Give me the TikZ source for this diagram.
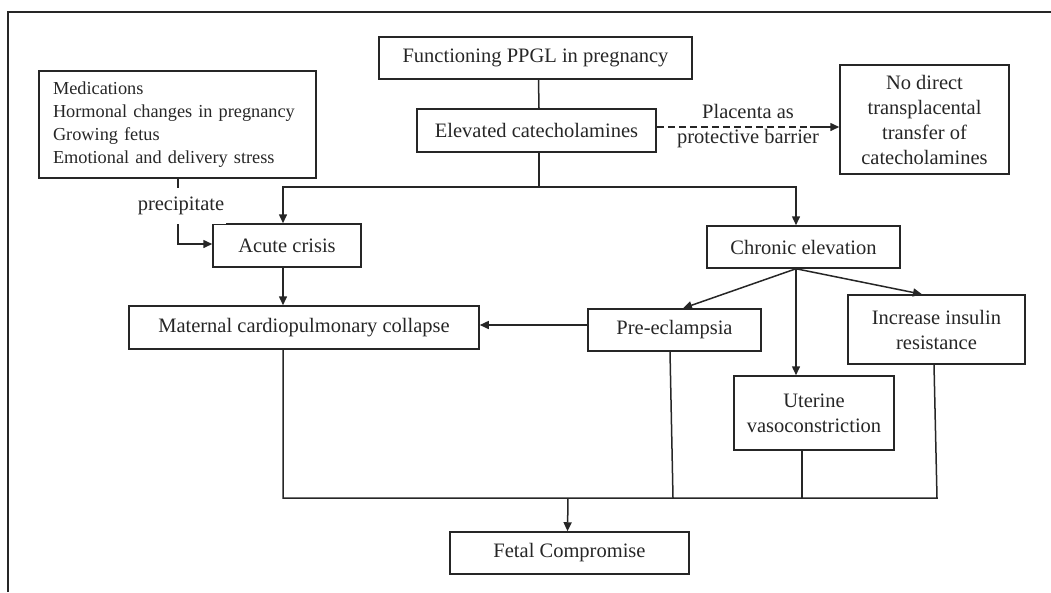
\documentclass[tikz,border=0pt]{standalone}
\usepackage{fontspec}
\setmainfont{Liberation Serif}
\usetikzlibrary{arrows.meta,calc}
\definecolor{ink}{HTML}{262626}
\begin{document}
\begin{tikzpicture}[x=1pt,y=-1pt,
  box/.style={draw=ink,line width=1.5pt,text=ink,inner sep=0pt,align=center,
    font=\fontsize{20.5}{24}\selectfont},
  con/.style={draw=ink,line width=1.5pt},
  arr/.style={con,-{Triangle[length=9pt,width=8pt]}},
  lbl/.style={text=ink,font=\fontsize{20.5}{25}\selectfont,align=center,inner sep=1pt}]
\useasboundingbox (0,0) rectangle (1051,592);
\draw[con] (8,592) -- (8,12) -- (1051,12);

\node[box,minimum width=313pt,minimum height=42pt] (ppgl) at (535.5,58) {Functioning PPGL in pregnancy};
\node[box,minimum width=239pt,minimum height=43pt] (elev) at (536.5,130.5) {Elevated catecholamines};
\node[box,minimum width=277pt,minimum height=107pt,text width=249pt,inner xsep=14pt,align=left,
  font=\fontsize{18.3}{23}\selectfont] (med) at (177.5,124.5)
  {Medications\\Hormonal changes in pregnancy\\Growing fetus\\Emotional and delivery stress};
\node[box,minimum width=169pt,minimum height=109pt,font=\fontsize{20.5}{25}\selectfont] (nodir) at (924.5,119.5)
  {No direct\\transplacental\\transfer of\\catecholamines};
\node[box,minimum width=148pt,minimum height=43pt] (acute) at (287,245.5) {Acute crisis};
\node[box,minimum width=193pt,minimum height=42pt] (chronic) at (803.5,247) {Chronic elevation};
\node[box,minimum width=350pt,minimum height=43pt] (maternal) at (304,327.5) {Maternal cardiopulmonary collapse};
\node[box,minimum width=173pt,minimum height=42pt] (pree) at (674.5,330) {Pre-eclampsia};
\node[box,minimum width=177pt,minimum height=69pt,font=\fontsize{20.5}{25}\selectfont] (insulin) at (936.5,329.5)
  {Increase insulin\\resistance};
\node[box,minimum width=160pt,minimum height=74pt,font=\fontsize{20.5}{25}\selectfont] (uterine) at (814,413)
  {Uterine\\vasoconstriction};
\node[box,minimum width=239pt,minimum height=42pt] (fetal) at (569.5,553) {Fetal Compromise};

% top chain
\draw[con] ([xshift=3pt]ppgl.south) -- ([xshift=2.5pt]elev.north);
\coordinate (sp) at (539,187);
\draw[con] ([xshift=2.5pt]elev.south) -- (sp);
\draw[arr] (sp) -| ([xshift=-4pt]acute.north);
\draw[arr] (sp) -| ([xshift=-7.5pt]chronic.north);

% placenta barrier
\coordinate (ds) at ([yshift=3.5pt]elev.east);
\coordinate (de) at (810,127);
\draw[con,dash pattern=on 7pt off 4pt] (ds) -- (de);
\draw[arr] (de) -- (nodir.west |- de);
\node[lbl] (plac) at (748,126.5) {Placenta as\\protective barrier};

% precipitate
\coordinate (ms) at ([xshift=0.5pt]med.south);
\draw[arr] (ms) |- ([yshift=1.5pt]acute.west);
\node[lbl,fill=white,minimum height=36pt,inner xsep=2pt] (prec) at (181,205.5) {precipitate};

% acute -> maternal
\coordinate (ab) at ([xshift=-4pt]acute.south);
\draw[arr] (ab) -- (ab |- maternal.north);

% pre-eclampsia -> maternal
\coordinate (pw) at ([yshift=5pt]pree.west);
\draw[arr] (pw) -- (maternal.east |- pw);

% chronic branches
\coordinate (cb) at ([xshift=-7.5pt]chronic.south);
\draw[arr] (cb) -- ([xshift=8.5pt]pree.north);
\draw[arr] (cb) -- ([xshift=-14.5pt]insulin.north);
\draw[arr] (cb) -- (cb |- uterine.north);

% collector
\coordinate (bl) at (283,498);
\coordinate (bp) at (673,498);
\coordinate (bu) at (802,498);
\coordinate (br) at (937,498);
\coordinate (bf) at (568,498);
\draw[con] (bl |- maternal.south) -- (bl) -- (br) -- ([xshift=-2.5pt]insulin.south);
\draw[con] ([xshift=-4.5pt]pree.south) -- (bp);
\draw[con] ([xshift=-12pt]uterine.south) -- (bu);
\draw[arr] (bf) -- ([xshift=-2pt]fetal.north);
\end{tikzpicture}
\end{document}
